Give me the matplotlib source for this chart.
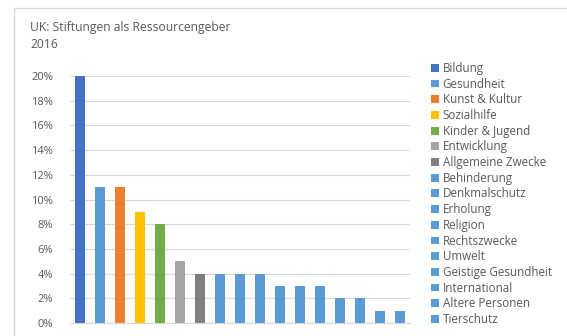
import matplotlib
matplotlib.use("Agg")
import matplotlib.pyplot as plt
from matplotlib.patches import Rectangle, Patch

categories = ["Bildung", "Gesundheit", "Kunst & Kultur", "Sozialhilfe", "Kinder & Jugend",
              "Entwicklung", "Allgemeine Zwecke", "Behinderung", "Denkmalschutz", "Erholung",
              "Religion", "Rechtszwecke", "Umwelt", "Geistige Gesundheit", "International",
              "Altere Personen", "Tierschutz"]
values = [20, 11, 11, 9, 8, 5, 4, 4, 4, 4, 3, 3, 3, 2, 2, 1, 1]
colors = ["#4472C4", "#5B9BD5", "#ED7D31", "#FFC000", "#70AD47", "#A5A5A5", "#7F7F7F"] + ["#5B9BD5"] * 10
yticks = [0, 2, 4, 6, 8, 10, 12, 14, 16, 18, 20]
title_lines = ["UK: Stiftungen als Ressourcengeber", "2016"]

W, H = 567, 336
plt.rcParams['font.family'] = ['Open Sans', 'DejaVu Sans']
fig = plt.figure(figsize=(W / 100, H / 100), dpi=100)
fig.patch.set_facecolor("white")

# outer chart border
fig.patches.append(Rectangle((14 / W, -0.1), 1.2, (H - 8) / H + 0.1, transform=fig.transFigure,
                             fill=False, edgecolor="#D9D9D9", linewidth=1.0))

ax = fig.add_axes([70 / W, 1 - 323 / H, 340 / W, (323 - 76) / H])
x = list(range(len(values)))
ax.bar(x, values, width=0.5, color=colors, zorder=3)
ax.set_xlim(-0.5, len(values) - 0.5)
ax.set_ylim(0, 20)
ax.set_yticks(yticks)
ax.set_yticklabels([f"{t}%" for t in yticks], fontsize=8, color="#595959")
ax.set_xticks([])
ax.grid(axis="y", color="#D9D9D9", linewidth=0.8, zorder=0)
for s in ["top", "right", "left"]:
    ax.spines[s].set_visible(False)
ax.spines["bottom"].set_color("#D9D9D9")
ax.tick_params(axis="y", length=0, pad=12)

fig.text(30 / W, 1 - 27 / H, title_lines[0], fontsize=8.7, color="#595959", va="center", ha="left")
fig.text(30 / W, 1 - 44 / H, title_lines[1], fontsize=8.7, color="#595959", va="center", ha="left")

handles = [Patch(facecolor=c, edgecolor="none") for c in colors]
leg = fig.legend(handles, categories, loc="upper left", bbox_to_anchor=(431 / W, 1 - 62 / H),
                 frameon=False, fontsize=8.4, handlelength=0.65, handleheight=0.65,
                 handletextpad=0.35, labelspacing=0.23, borderaxespad=0, borderpad=0)
for t in leg.get_texts():
    t.set_color("#595959")

fig.savefig("out.png", dpi=100, facecolor="white")
